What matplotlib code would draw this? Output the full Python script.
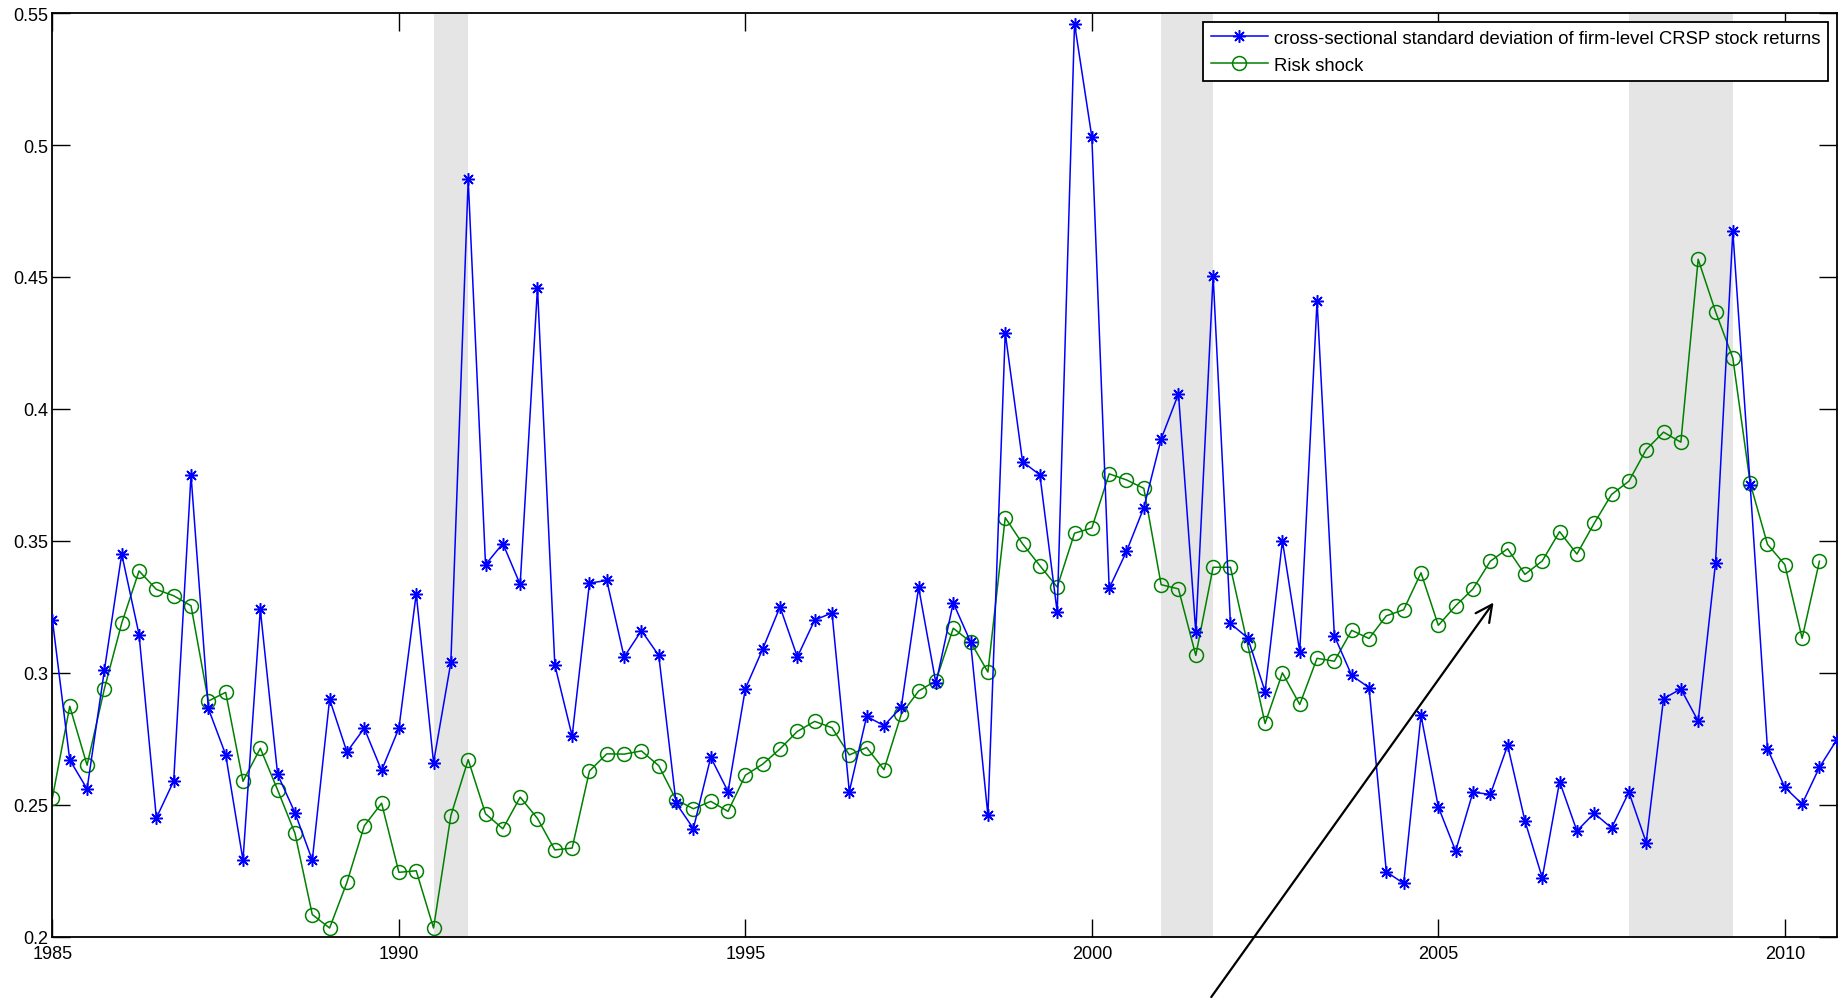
import numpy as np
import matplotlib
matplotlib.use('Agg')
import matplotlib.pyplot as plt

plt.rcParams['font.family'] = ['Liberation Sans', 'DejaVu Sans']

# quarterly data, first quarter 1985Q1
start_year = 1985

cs_std = [0.320, 0.267, 0.256, 0.301, 0.345, 0.3145, 0.245, 0.259, 0.375, 0.2865,
          0.269, 0.229, 0.324, 0.2615, 0.247, 0.229, 0.290, 0.270, 0.279, 0.263,
          0.279, 0.330, 0.266, 0.304, 0.487, 0.341, 0.349, 0.3335, 0.446, 0.303,
          0.276, 0.334, 0.335, 0.306, 0.316, 0.3066, 0.2506, 0.241, 0.268, 0.255,
          0.294, 0.309, 0.325, 0.306, 0.320, 0.3227, 0.255, 0.2835, 0.280, 0.287,
          0.3324, 0.296, 0.3265, 0.3117, 0.246, 0.4288, 0.380, 0.375, 0.323, 0.546,
          0.503, 0.332, 0.346, 0.3626, 0.3886, 0.4057, 0.3154, 0.4504, 0.3187, 0.3132,
          0.2929, 0.350, 0.308, 0.441, 0.314, 0.299, 0.2944, 0.2246, 0.2202, 0.2839,
          0.2492, 0.2325, 0.2548, 0.2539, 0.2725, 0.2439, 0.2223, 0.2588, 0.2401, 0.2468,
          0.2412, 0.2548, 0.2357, 0.2902, 0.2939, 0.2817, 0.3416, 0.4673, 0.3713, 0.2712,
          0.2566, 0.2503, 0.2642, 0.2746]

risk_shock = [0.2527, 0.2873, 0.265, 0.294, 0.3188, 0.3386, 0.3316, 0.3292, 0.3254, 0.2893,
              0.2926, 0.2589, 0.2714, 0.2556, 0.2392, 0.2084, 0.2033, 0.2206, 0.242, 0.2506,
              0.2244, 0.225, 0.2033, 0.2459, 0.2671, 0.2466, 0.2409, 0.2529, 0.2448, 0.2329,
              0.2336, 0.2628, 0.2693, 0.2692, 0.2704, 0.2648, 0.2519, 0.2485, 0.2513, 0.2475,
              0.2612, 0.2654, 0.2712, 0.2778, 0.2816, 0.2792, 0.2689, 0.2717, 0.2633, 0.2843,
              0.2931, 0.297, 0.3169, 0.3117, 0.3003, 0.3588, 0.3489, 0.3406, 0.3325, 0.3529,
              0.3549, 0.3754, 0.3731, 0.3699, 0.3334, 0.3318, 0.3066, 0.340, 0.340, 0.3105,
              0.2808, 0.300, 0.288, 0.3055, 0.3044, 0.3161, 0.313, 0.3216, 0.3239, 0.3379,
              0.318, 0.3254, 0.3318, 0.3423, 0.347, 0.3373, 0.3424, 0.3535, 0.345, 0.3567,
              0.3676, 0.3726, 0.3846, 0.3912, 0.3874, 0.4567, 0.4369, 0.4193, 0.3719, 0.3487,
              0.341, 0.3131, 0.3423]

# NBER recessions (start, end)
recessions = [(1990.5, 1991.0), (2001.0, 2001.75), (2007.75, 2009.25)]

xticks = [1985, 1990, 1995, 2000, 2005, 2010]
yticks = [0.2, 0.25, 0.3, 0.35, 0.4, 0.45, 0.5, 0.55]
ytick_labels = ['0.2', '0.25', '0.3', '0.35', '0.4', '0.45', '0.5', '0.55']

labels = ['cross-sectional standard deviation of firm-level CRSP stock returns',
          'Risk shock']

t_std = start_year + np.arange(len(cs_std)) / 4.0
t_risk = start_year + np.arange(len(risk_shock)) / 4.0

fig = plt.figure(figsize=(18.46, 10.04), dpi=100)
ax = fig.add_axes([0.0284, 0.066, 0.9666, 0.920])

for a, b in recessions:
    ax.axvspan(a, b, color='#e5e5e5', lw=0, zorder=0)

ax.plot(t_std, cs_std, color='#0000ff', lw=1.1, marker=(8, 2, 0),
        markersize=9, markeredgewidth=1.1, label=labels[0], zorder=3)
ax.plot(t_risk, risk_shock, color='#008000', lw=1.1, marker='o',
        markersize=10, markerfacecolor='none', markeredgewidth=1.1,
        label=labels[1], zorder=2)

ax.set_xlim(start_year, t_std[-1])
ax.set_ylim(0.2, 0.55)
ax.set_xticks(xticks)
ax.set_yticks(yticks)
ax.set_yticklabels(ytick_labels)
ax.tick_params(direction='in', length=13, width=1, top=True, right=True,
               labelsize=13)
ax.tick_params(axis='x', pad=6)
ax.tick_params(axis='y', pad=3)
for s in ax.spines.values():
    s.set_linewidth(1.3)

leg = ax.legend(loc='upper right', fontsize=13.3, handlelength=3.1,
                handletextpad=0.3, borderaxespad=0.5, labelspacing=0.55,
                fancybox=False, framealpha=1, edgecolor='black')
leg.get_frame().set_linewidth(1.3)

# arrow pointing at the upward trend of the risk shock
ax.annotate('', xy=(2005.82, 0.3275), xytext=(2001.70, 0.1763),
            arrowprops=dict(arrowstyle='->', lw=1.6, color='black',
                            mutation_scale=30),
            annotation_clip=False)

fig.savefig('out.png', dpi=100)
